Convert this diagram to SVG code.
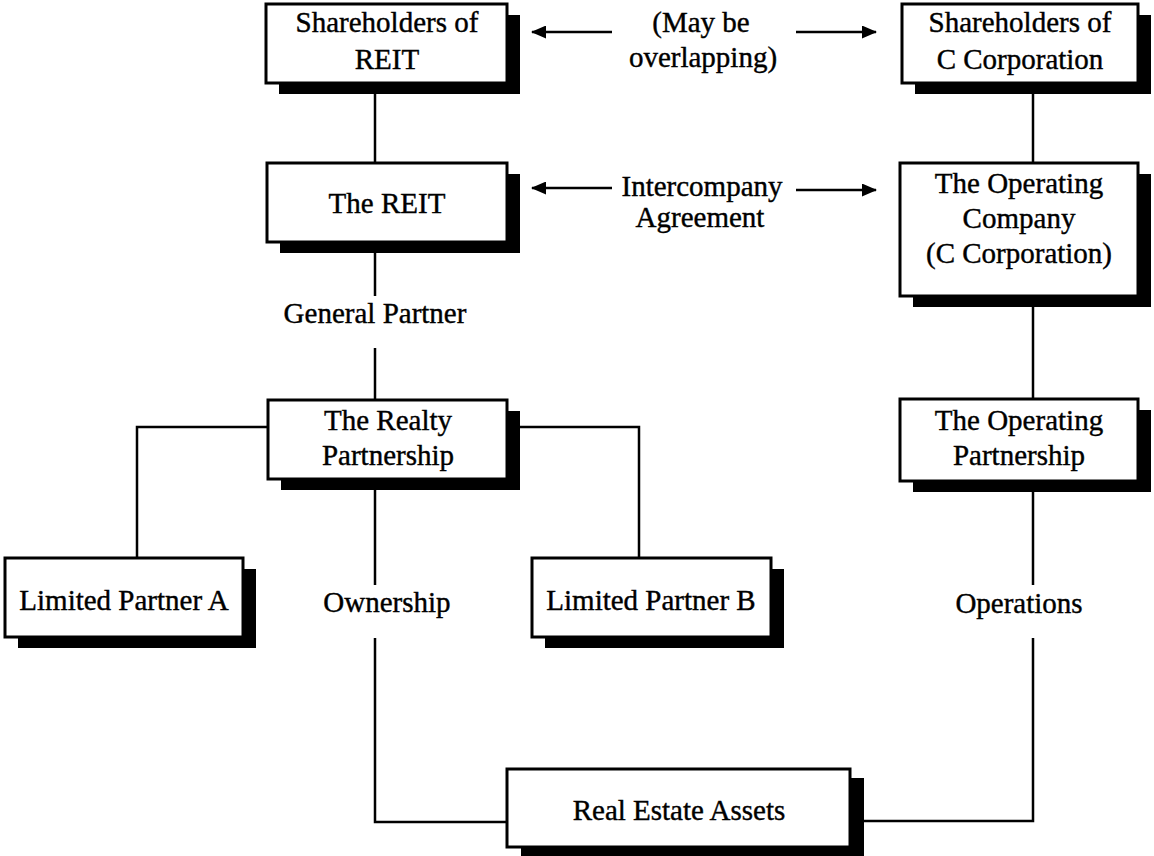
<svg xmlns="http://www.w3.org/2000/svg" width="1154" height="856" viewBox="0 0 1154 856">
<defs>
<style>
.shadow{fill:#000}
.box{fill:#fff;stroke:#000;stroke-width:3}
text{font-family:"Liberation Serif","Times New Roman",serif;font-size:29px;fill:#000;stroke:#000;stroke-width:0.4;text-anchor:middle}
.c{fill:none;stroke:#000;stroke-width:2.5}
</style>
<marker id="ah" viewBox="0 0 15 13" refX="14" refY="6.5" markerWidth="15" markerHeight="13" markerUnits="userSpaceOnUse" orient="auto">
<path d="M0,0 L15,6.5 L0,13 Z" fill="#000"/>
</marker>
</defs>
<rect width="1154" height="856" fill="#fff"/>
<g id="connectors">
<line class="c" x1="375" y1="94" x2="375" y2="163"/>
<line class="c" x1="1033" y1="94" x2="1033" y2="163"/>
<line class="c" x1="375" y1="253" x2="375" y2="296"/>
<line class="c" x1="375" y1="348" x2="375" y2="400"/>
<line class="c" x1="1033" y1="306" x2="1033" y2="399"/>
<polyline class="c" points="268,427 137,427 137,558"/>
<polyline class="c" points="507,427 639,427 639,558"/>
<line class="c" x1="375" y1="490" x2="375" y2="585"/>
<polyline class="c" points="375,638 375,822 507,822"/>
<line class="c" x1="1033" y1="492" x2="1033" y2="585"/>
<polyline class="c" points="1033,638 1033,821 850,821"/>
<line class="c" x1="612" y1="32" x2="532" y2="32" stroke-width="3" marker-end="url(#ah)"/>
<line class="c" x1="796" y1="32" x2="876" y2="32" stroke-width="3" marker-end="url(#ah)"/>
<line class="c" x1="612" y1="188" x2="532" y2="188" stroke-width="3" marker-end="url(#ah)"/>
<line class="c" x1="796" y1="190" x2="876" y2="190" stroke-width="3" marker-end="url(#ah)"/>
<text x="701" y="32">(May be</text>
<text x="703" y="67">overlapping)</text>
<text x="702" y="196">Intercompany</text>
<text x="700" y="227">Agreement</text>
<text x="375" y="323">General Partner</text>
<text x="387" y="612">Ownership</text>
<text x="1019" y="613">Operations</text>
</g>
<g id="sh-reit">
<rect class="shadow" x="279" y="15" width="241" height="79"/>
<rect class="box" x="266" y="4" width="241" height="79"/>
<text x="387" y="32">Shareholders of</text>
<text x="387" y="69">REIT</text>
</g>
<g id="sh-c">
<rect class="shadow" x="915" y="15" width="236" height="79"/>
<rect class="box" x="902" y="4" width="236" height="79"/>
<text x="1020" y="32">Shareholders of</text>
<text x="1020" y="69">C Corporation</text>
</g>
<g id="reit">
<rect class="shadow" x="280" y="174" width="240" height="79"/>
<rect class="box" x="267" y="163" width="240" height="79"/>
<text x="387" y="213">The REIT</text>
</g>
<g id="opco">
<rect class="shadow" x="913" y="174" width="238" height="133"/>
<rect class="box" x="900" y="163" width="238" height="133"/>
<text x="1019" y="193">The Operating</text>
<text x="1019" y="228">Company</text>
<text x="1019" y="263">(C Corporation)</text>
</g>
<g id="realty">
<rect class="shadow" x="281" y="411" width="239" height="79"/>
<rect class="box" x="268" y="400" width="239" height="79"/>
<text x="388" y="430">The Realty</text>
<text x="388" y="465">Partnership</text>
</g>
<g id="oppart">
<rect class="shadow" x="913" y="410" width="238" height="82"/>
<rect class="box" x="900" y="399" width="238" height="82"/>
<text x="1019" y="430">The Operating</text>
<text x="1019" y="465">Partnership</text>
</g>
<g id="lpa">
<rect class="shadow" x="18" y="569" width="238" height="79"/>
<rect class="box" x="5" y="558" width="238" height="79"/>
<text x="124" y="610">Limited Partner A</text>
</g>
<g id="lpb">
<rect class="shadow" x="545" y="569" width="239" height="79"/>
<rect class="box" x="532" y="558" width="239" height="79"/>
<text x="651" y="610">Limited Partner B</text>
</g>
<g id="realestate">
<rect class="shadow" x="521" y="778" width="343" height="80"/>
<rect class="box" x="507" y="769" width="343" height="78"/>
<text x="679" y="820">Real Estate Assets</text>
</g>
</svg>
